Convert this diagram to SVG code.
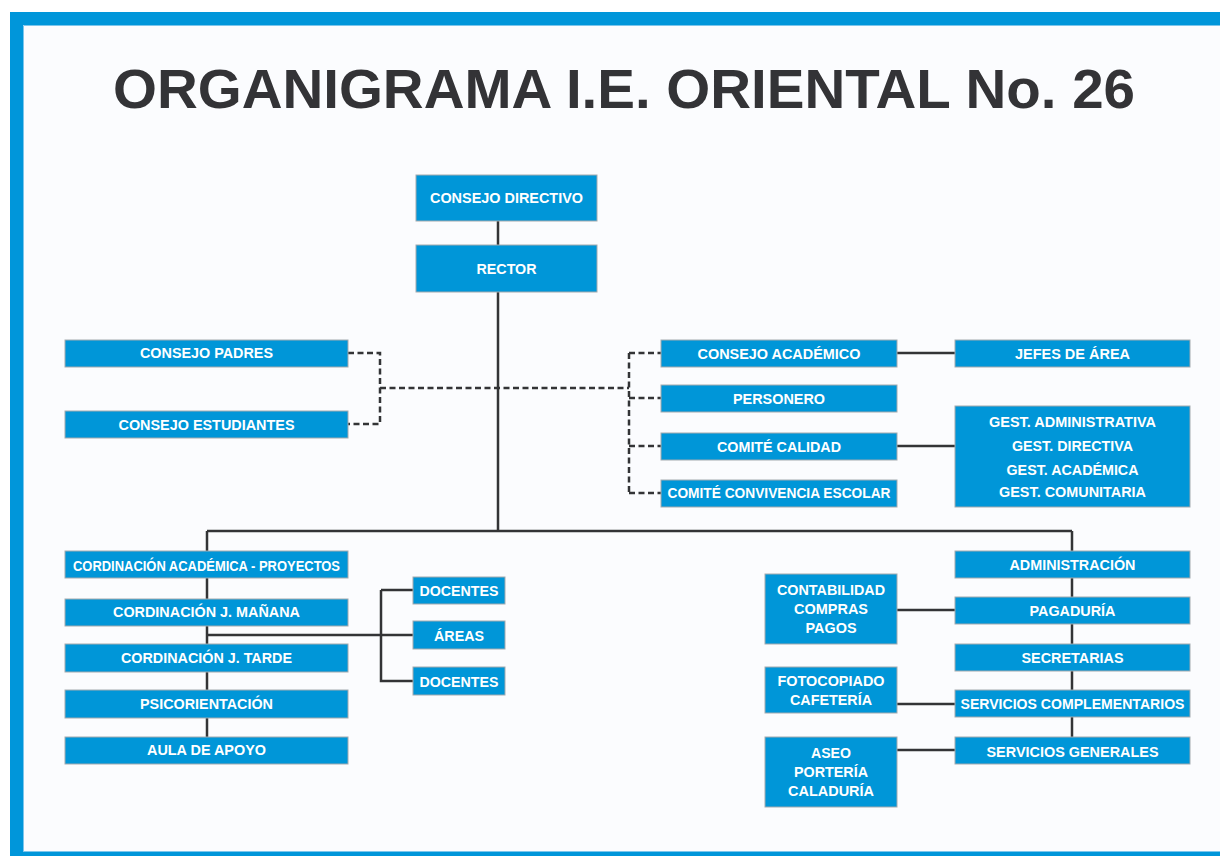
<svg xmlns="http://www.w3.org/2000/svg" width="1220" height="856" viewBox="0 0 1220 856">
<style>
.box{fill:#0096d8;stroke:#a3a9ae;stroke-width:1}
.lbl{font-family:"Liberation Sans",Arial,sans-serif;font-weight:bold;font-size:14.5px;fill:#ffffff;text-anchor:middle}
.ln{stroke:#333436;stroke-width:2.5;fill:none}
.dash{stroke:#333436;stroke-width:2.5;fill:none;stroke-dasharray:6 3.5}
.title{font-family:"Liberation Sans",Arial,sans-serif;font-weight:bold;font-size:56px;fill:#333336;text-anchor:middle}
</style>
<rect x="0" y="0" width="1220" height="856" fill="#ffffff"/>
<rect x="10" y="12" width="1210" height="844" fill="#0096da"/>
<rect x="23" y="25" width="1197" height="827" fill="#fbfcfe"/>
<path d="M23.5 852V25.5H1220M23 851.5H1220" stroke="#7cc6ec" stroke-width="1" fill="none"/>
<text class="title" x="624" y="108" textLength="1022" lengthAdjust="spacingAndGlyphs">ORGANIGRAMA I.E. ORIENTAL No. 26</text>

<g id="connectors">
<path class="ln" d="M498 221V245M498 292V531M207 531H1072M207 531V751M207 635H413M381 590H413M381 590V681H413M1072 531V751M897 353H955M897 446H955M897 610H955M897 704H955M897 750H955"/>
<path class="dash" d="M348 353H380V424H348M380 388H629M629 353V493M629 353H661M629 398H661M629 446H661M629 493H661"/>
</g>

<g id="consejo-directivo"><rect class="box" x="416" y="175" width="181" height="46"/><text class="lbl" x="506.5" y="203" textLength="153" lengthAdjust="spacingAndGlyphs">CONSEJO DIRECTIVO</text></g>
<g id="rector"><rect class="box" x="416" y="245" width="181" height="47"/><text class="lbl" x="506.5" y="274" textLength="60" lengthAdjust="spacingAndGlyphs">RECTOR</text></g>

<g id="consejo-padres"><rect class="box" x="65" y="340" width="283" height="27"/><text class="lbl" x="206.5" y="358" textLength="133" lengthAdjust="spacingAndGlyphs">CONSEJO PADRES</text></g>
<g id="consejo-estudiantes"><rect class="box" x="65" y="411" width="283" height="27"/><text class="lbl" x="206.5" y="430" textLength="176" lengthAdjust="spacingAndGlyphs">CONSEJO ESTUDIANTES</text></g>

<g id="consejo-academico"><rect class="box" x="661" y="340" width="236" height="27"/><text class="lbl" x="779" y="359" textLength="163" lengthAdjust="spacingAndGlyphs">CONSEJO ACADÉMICO</text></g>
<g id="personero"><rect class="box" x="661" y="385" width="236" height="27"/><text class="lbl" x="779" y="404" textLength="92" lengthAdjust="spacingAndGlyphs">PERSONERO</text></g>
<g id="comite-calidad"><rect class="box" x="661" y="433" width="236" height="27"/><text class="lbl" x="779" y="452" textLength="124" lengthAdjust="spacingAndGlyphs">COMITÉ CALIDAD</text></g>
<g id="comite-convivencia"><rect class="box" x="661" y="480" width="236" height="27"/><text class="lbl" x="779" y="498" textLength="223" lengthAdjust="spacingAndGlyphs">COMITÉ CONVIVENCIA ESCOLAR</text></g>

<g id="jefes-area"><rect class="box" x="955" y="340" width="235" height="27"/><text class="lbl" x="1072.5" y="359" textLength="115" lengthAdjust="spacingAndGlyphs">JEFES DE ÁREA</text></g>
<g id="gestiones"><rect class="box" x="955" y="406" width="235" height="101"/>
<text class="lbl" x="1072.5" y="427" textLength="167" lengthAdjust="spacingAndGlyphs">GEST. ADMINISTRATIVA</text>
<text class="lbl" x="1072.5" y="451" textLength="121" lengthAdjust="spacingAndGlyphs">GEST. DIRECTIVA</text>
<text class="lbl" x="1072.5" y="475" textLength="132" lengthAdjust="spacingAndGlyphs">GEST. ACADÉMICA</text>
<text class="lbl" x="1072.5" y="497" textLength="147" lengthAdjust="spacingAndGlyphs">GEST. COMUNITARIA</text></g>

<g id="cord-academica"><rect class="box" x="65" y="551" width="283" height="27"/><text class="lbl" x="206.5" y="571" textLength="267" lengthAdjust="spacingAndGlyphs">CORDINACIÓN ACADÉMICA - PROYECTOS</text></g>
<g id="cord-manana"><rect class="box" x="65" y="599" width="283" height="27"/><text class="lbl" x="206.5" y="617" textLength="187" lengthAdjust="spacingAndGlyphs">CORDINACIÓN J. MAÑANA</text></g>
<g id="cord-tarde"><rect class="box" x="65" y="644" width="283" height="28"/><text class="lbl" x="206.5" y="663" textLength="171" lengthAdjust="spacingAndGlyphs">CORDINACIÓN J. TARDE</text></g>
<g id="psicorientacion"><rect class="box" x="65" y="690" width="283" height="28"/><text class="lbl" x="206.5" y="709" textLength="133" lengthAdjust="spacingAndGlyphs">PSICORIENTACIÓN</text></g>
<g id="aula-apoyo"><rect class="box" x="65" y="737" width="283" height="27"/><text class="lbl" x="206.5" y="755" textLength="119" lengthAdjust="spacingAndGlyphs">AULA DE APOYO</text></g>

<g id="docentes-1"><rect class="box" x="413" y="577" width="92" height="27"/><text class="lbl" x="459" y="596" textLength="79" lengthAdjust="spacingAndGlyphs">DOCENTES</text></g>
<g id="areas"><rect class="box" x="413" y="621" width="92" height="28"/><text class="lbl" x="459" y="641" textLength="50" lengthAdjust="spacingAndGlyphs">ÁREAS</text></g>
<g id="docentes-2"><rect class="box" x="413" y="667" width="92" height="28"/><text class="lbl" x="459" y="687" textLength="79" lengthAdjust="spacingAndGlyphs">DOCENTES</text></g>

<g id="administracion"><rect class="box" x="955" y="551" width="235" height="27"/><text class="lbl" x="1072.5" y="570" textLength="126" lengthAdjust="spacingAndGlyphs">ADMINISTRACIÓN</text></g>
<g id="pagaduria"><rect class="box" x="955" y="597" width="235" height="27"/><text class="lbl" x="1072.5" y="616" textLength="86" lengthAdjust="spacingAndGlyphs">PAGADURÍA</text></g>
<g id="secretarias"><rect class="box" x="955" y="644" width="235" height="27"/><text class="lbl" x="1072.5" y="663" textLength="102" lengthAdjust="spacingAndGlyphs">SECRETARIAS</text></g>
<g id="servicios-complementarios"><rect class="box" x="955" y="690" width="235" height="27"/><text class="lbl" x="1072.5" y="709" textLength="224" lengthAdjust="spacingAndGlyphs">SERVICIOS COMPLEMENTARIOS</text></g>
<g id="servicios-generales"><rect class="box" x="955" y="737" width="235" height="27"/><text class="lbl" x="1072.5" y="757" textLength="172" lengthAdjust="spacingAndGlyphs">SERVICIOS GENERALES</text></g>

<g id="contabilidad"><rect class="box" x="765" y="574" width="132" height="70"/>
<text class="lbl" x="831" y="595" textLength="108" lengthAdjust="spacingAndGlyphs">CONTABILIDAD</text>
<text class="lbl" x="831" y="614" textLength="74" lengthAdjust="spacingAndGlyphs">COMPRAS</text>
<text class="lbl" x="831" y="633" textLength="51" lengthAdjust="spacingAndGlyphs">PAGOS</text></g>
<g id="fotocopiado"><rect class="box" x="765" y="667" width="132" height="46"/>
<text class="lbl" x="831" y="686" textLength="107" lengthAdjust="spacingAndGlyphs">FOTOCOPIADO</text>
<text class="lbl" x="831" y="705" textLength="82" lengthAdjust="spacingAndGlyphs">CAFETERÍA</text></g>
<g id="aseo"><rect class="box" x="765" y="737" width="132" height="70"/>
<text class="lbl" x="831" y="758" textLength="40" lengthAdjust="spacingAndGlyphs">ASEO</text>
<text class="lbl" x="831" y="777" textLength="74" lengthAdjust="spacingAndGlyphs">PORTERÍA</text>
<text class="lbl" x="831" y="796" textLength="86" lengthAdjust="spacingAndGlyphs">CALADURÍA</text></g>
</svg>
